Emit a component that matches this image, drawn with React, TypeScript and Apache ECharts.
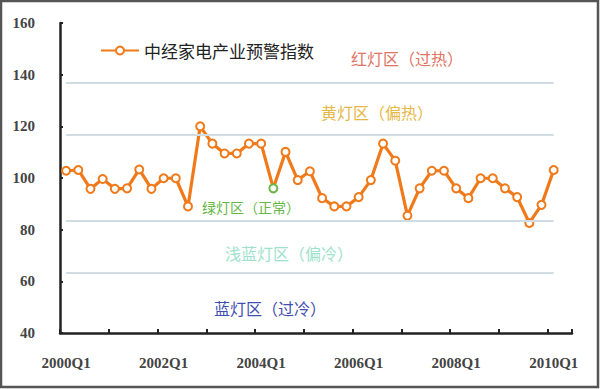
import React, { useEffect, useRef } from "react";
import * as echarts from "echarts";

const categories = [
  "2000Q1", "2000Q2", "2000Q3", "2000Q4",
  "2001Q1", "2001Q2", "2001Q3", "2001Q4",
  "2002Q1", "2002Q2", "2002Q3", "2002Q4",
  "2003Q1", "2003Q2", "2003Q3", "2003Q4",
  "2004Q1", "2004Q2", "2004Q3", "2004Q4",
  "2005Q1", "2005Q2", "2005Q3", "2005Q4",
  "2006Q1", "2006Q2", "2006Q3", "2006Q4",
  "2007Q1", "2007Q2", "2007Q3", "2007Q4",
  "2008Q1", "2008Q2", "2008Q3", "2008Q4",
  "2009Q1", "2009Q2", "2009Q3", "2009Q4",
  "2010Q1", "2010Q2",
];

const indexValues = [
  102.8, 103.1, 95.8, 99.6, 95.8, 96.0, 103.3, 95.8, 99.9, 99.9,
  89.0, 120.0, 113.3, 109.5, 109.5, 113.3, 113.3, 96.0, 110.1, 99.2,
  102.6, 92.2, 89.0, 89.0, 92.6, 99.2, 113.3, 106.7, 85.4, 96.0,
  102.8, 102.8, 96.0, 92.2, 99.9, 99.9, 96.0, 92.6, 82.6, 89.6,
  103.1,
];

const seriesName = "中经家电产业预警指数";
const zoneThresholds = [136.7, 116.7, 83.3, 63.3];
const zoneLabels = ["红灯区（过热）", "黄灯区（偏热）", "绿灯区（正常）", "浅蓝灯区（偏冷）", "蓝灯区（过冷）"];
const zoneColors = ["#e07464", "#e6b646", "#66b646", "#9ee2cc", "#3f4fb0"];
const zoneFontSizes = [16, 16, 14, 16, 16];
const zoneLabelPos = [
  [407, 58],
  [377, 112],
  [251, 207],
  [289, 253],
  [270, 308],
];
const highlightIndex = 17;

const yMin = 40;
const yMax = 160;
const yStep = 20;

export default function App() {
  const ref = useRef<HTMLDivElement>(null);

  useEffect(() => {
    if (!ref.current) return;
    const chart = echarts.init(ref.current, null, { renderer: "svg" });
    const orange = "#f07a1a";
    const serif = "'Liberation Serif', 'DejaVu Serif', serif";
    const cjk = "'Noto Sans CJK SC', sans-serif";

    const lastIdx = indexValues.length - 1;

    chart.setOption({
      animation: false,
      backgroundColor: "#ffffff",
      grid: { left: 60, right: 28, top: 23, bottom: 56, containLabel: false },
      legend: {
        data: [seriesName],
        left: 95,
        top: 37,
        itemWidth: 38,
        itemHeight: 10,
        textStyle: { fontSize: 17, color: "#222", fontFamily: cjk },
      },
      xAxis: {
        type: "category",
        data: categories,
        boundaryGap: true,
        axisLine: { show: true, lineStyle: { color: "#222", width: 2.5 } },
        axisTick: { show: true, inside: true, interval: 3, length: 4, lineStyle: { color: "#222", width: 2 } },
        axisLabel: {
          interval: 7,
          margin: 22,
          fontSize: 15,
          fontFamily: serif,
          fontWeight: "bold",
          color: "#444",
        },
        splitLine: { show: false },
      },
      yAxis: {
        type: "value",
        min: yMin,
        max: yMax,
        interval: yStep,
        axisLine: { show: true, lineStyle: { color: "#222", width: 2.5 } },
        axisTick: { show: true, inside: true, length: 3, lineStyle: { color: "#222", width: 2 } },
        axisLabel: {
          margin: 25,
          fontSize: 15,
          fontFamily: serif,
          fontWeight: "bold",
          color: "#444",
        },
        splitLine: { show: false },
      },
      series: [
        {
          name: "zones",
          type: "line",
          data: [],
          z: 1,
          silent: true,
          markLine: {
            silent: true,
            symbol: ["none", "none"],
            label: { show: false },
            lineStyle: { color: "#cfdde3", width: 2, type: "solid" },
            data: zoneThresholds.map((v) => [
              { coord: [categories[0], v] },
              { coord: [categories[lastIdx], v] },
            ]),
          },
        },
        {
          name: seriesName,
          type: "line",
          z: 3,
          data: indexValues.map((v, i) =>
            i === highlightIndex
              ? { value: v, itemStyle: { borderColor: "#6ab84a" } }
              : v
          ),
          symbol: "circle",
          symbolSize: 8,
          lineStyle: { color: orange, width: 3.2 },
          itemStyle: { color: "#ffffff", borderColor: orange, borderWidth: 2 },
        },
      ],
      graphic: [
        ...zoneLabels.map((t, i) => ({
          type: "text",
          x: zoneLabelPos[i][0],
          y: zoneLabelPos[i][1],
          z: 10,
          style: {
            text: t,
            fill: zoneColors[i],
            fontSize: zoneFontSizes[i],
            fontFamily: cjk,
            align: "center",
            verticalAlign: "middle",
          },
        })),
        {
          type: "rect",
          z: 100,
          shape: { x: 1, y: 1, width: 597, height: 386 },
          style: { fill: "none", stroke: "#555", lineWidth: 2.5 },
        },
      ],
    });

    return () => chart.dispose();
  }, []);

  return (
    <div
      ref={ref}
      style={{ position: "absolute", left: 0, top: 0, width: 600, height: 389 }}
    />
  );
}
